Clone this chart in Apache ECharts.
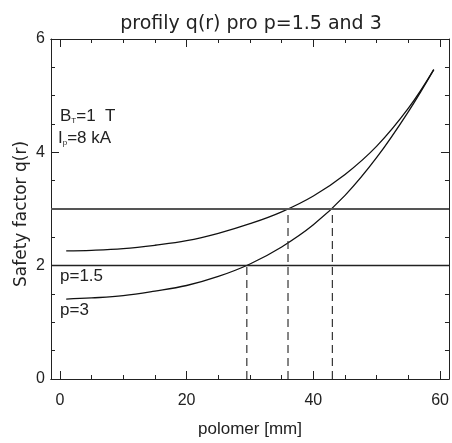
<!DOCTYPE html>
<html>
<head>
<meta charset="utf-8">
<script src="https://cdn.jsdelivr.net/npm/echarts@6/dist/echarts.min.js"></script>
<style>
html,body{margin:0;padding:0;background:#fff;}
#chart{width:452px;height:443px;}
</style>
</head>
<body>
<div id="chart"></div>
<script>
// ---- data ----
const rValues = [1, 5, 10, 15, 20, 25, 30, 35, 40, 45, 50, 55, 59];
const qP15   = [2.26, 2.27, 2.30, 2.36, 2.44, 2.57, 2.74, 2.95, 3.23, 3.61, 4.11, 4.78, 5.46];
const qP3    = [1.41, 1.43, 1.47, 1.55, 1.65, 1.81, 2.03, 2.33, 2.72, 3.24, 3.91, 4.72, 5.46];
const qLevels = [2, 3];
const crossR = [29.5, 36, 43];
const crossQ = [2, 3, 3];
const xMajorTicks = [0, 20, 40, 60];
const xMinorTicks = [5, 10, 15, 25, 30, 35, 45, 50, 55];
const titleText = 'profily q(r) pro p=1.5 and 3';
const xName = 'polomer [mm]';
const yName = 'Safety factor q(r)';

const FONT = 'Liberation Sans';
const INK = '#222';
const X_MIN = -1.4, X_MAX = 61.4;

function xAx(pos, ticks, len, labels) {
  return {
    type: 'value', position: pos, min: X_MIN, max: X_MAX,
    axisLine: { show: true, onZero: false, lineStyle: { color: INK, width: 1 } },
    axisTick: { show: true, inside: true, length: len, customValues: ticks, lineStyle: { color: INK } },
    axisLabel: labels ? { show: true, customValues: ticks, color: INK, fontFamily: FONT, fontSize: 16, margin: 14 } : { show: false },
    splitLine: { show: false }
  };
}

const xAxes = [xAx('bottom', xMajorTicks, 8, true), xAx('bottom', xMinorTicks, 4, false),
               xAx('top', xMajorTicks, 8, false), xAx('top', xMinorTicks, 4, false)];
xAxes[0].name = xName;
xAxes[0].nameLocation = 'middle';
xAxes[0].nameGap = 42;
xAxes[0].nameTextStyle = { color: INK, fontFamily: FONT, fontSize: 17 };

function yAx(pos, labels) {
  return {
    type: 'value', position: pos, min: 0, max: 6, interval: 2,
    axisLine: { show: true, onZero: false, lineStyle: { color: INK, width: 1 } },
    axisTick: { show: true, inside: true, length: 8, lineStyle: { color: INK } },
    minorTick: { show: true, splitNumber: 4, length: 4, lineStyle: { color: INK } },
    axisLabel: labels ? { show: true, color: INK, fontFamily: FONT, fontSize: 16, margin: 6 } : { show: false },
    splitLine: { show: false }, minorSplitLine: { show: false }
  };
}
const yAxes = [yAx('left', true), yAx('right', false)];

const curve = (qs) => rValues.map((r, i) => [r, qs[i]]);

const series = [
  { type: 'line', data: curve(qP15), smooth: 0.4, symbol: 'none', lineStyle: { color: '#111', width: 1.3 },
    markLine: { silent: true, symbol: 'none', label: { show: false },
      data: qLevels.map((q, i) => ({ yAxis: q, lineStyle: { type: 'solid', color: i === 0 ? '#222' : '#555', width: i === 0 ? 1.3 : 2 } })) } },
  { type: 'line', data: curve(qP3), smooth: 0.4, symbol: 'none', lineStyle: { color: '#111', width: 1.3 } }
];
crossR.forEach((r, i) => {
  series.push({ type: 'line', data: [[r, 0], [r, crossQ[i]]], symbol: 'none',
    lineStyle: { color: '#333', width: 1.2, type: [8, 5] } });
});

const subRich = {
  m: { fontFamily: FONT, fontSize: 17, fill: INK },
  s: { fontFamily: FONT, fontSize: 8, fill: INK, padding: [8, 0, 0, 0] }
};

const chart = echarts.init(document.getElementById('chart'), null, { renderer: 'canvas' });
chart.setOption({
  animation: false,
  backgroundColor: '#fff',
  title: { text: titleText, left: 246, top: 10, textAlign: 'center',
    textStyle: { color: INK, fontFamily: 'DejaVu Sans', fontSize: 19, fontWeight: 'normal' } },
  grid: { left: 51, right: 0, top: 39, bottom: 64, containLabel: false },
  xAxis: xAxes,
  yAxis: yAxes,
  series: series,
  graphic: [
    { type: 'text', x: 22, y: 214, rotation: Math.PI / 2,
      style: { text: yName, fontFamily: 'DejaVu Sans', fontSize: 17, fill: INK, align: 'center', verticalAlign: 'middle' } },
    { type: 'text', left: 60, top: 108, style: { text: '{m|B}{s|T}{m|=1  T}', rich: subRich } },
    { type: 'text', left: 58, top: 130, style: { text: '{m|I}{s|p}{m|=8 kA}', rich: subRich } },
    { type: 'text', left: 60, top: 268, style: { text: 'p=1.5', fontFamily: FONT, fontSize: 17, fill: INK } },
    { type: 'text', left: 60, top: 302, style: { text: 'p=3', fontFamily: FONT, fontSize: 17, fill: INK } }
  ]
});
</script>
</body>
</html>
